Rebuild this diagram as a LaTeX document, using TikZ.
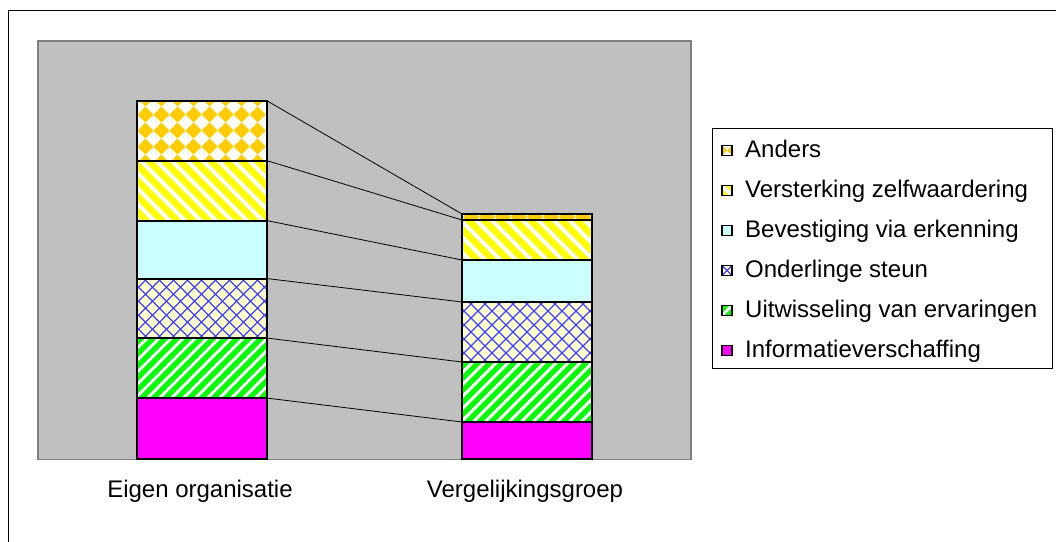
\documentclass[tikz,border=0pt]{standalone}
\usepackage{fontspec}
\setmainfont{Liberation Sans}
\definecolor{plotgray}{HTML}{C0C0C0}
\definecolor{plotedge}{HTML}{808080}
\definecolor{magentaC}{HTML}{FF00FF}
\definecolor{greenC}{HTML}{00FF00}
\definecolor{creamC}{HTML}{FFFFCC}
\definecolor{hatchblue}{HTML}{4040FF}
\definecolor{cyanC}{HTML}{CCFFFF}
\definecolor{yellowC}{HTML}{FFFF00}
\definecolor{orangeC}{HTML}{FFCC00}
\begin{document}
\begin{tikzpicture}[x=1pt,y=-1pt,
  every node/.style={font=\fontsize{24}{28}\selectfont},
  seg/.style={rectangle,draw=black,line width=2pt,minimum width=130pt,
    inner sep=0pt,outer sep=0pt,anchor=north west},
  key/.style={rectangle,draw=black,line width=1.2pt,minimum size=10pt,
    inner sep=0pt,outer sep=0pt},
  keytext/.style={anchor=base west,inner sep=0pt},
  link/.style={draw=black,line width=0.8pt},
  % solid fills and hatch fills of the six categories
  fillInfo/.style={fill=magentaC},
  fillUitw/.style={fill=greenC,path picture={
    \foreach \i in {-240,-228,...,240}{
      \draw[white,line width=3pt] ([xshift=\i pt]path picture bounding box.center)
        ++(-120,120) -- ++(240,-240);}}},
  fillOnder/.style={fill=creamC,path picture={
    \foreach \i in {-238,-224,...,238}{
      \draw[hatchblue,line width=1.1pt] ([xshift=\i pt]path picture bounding box.center)
        ++(-120,120) -- ++(240,-240);
      \draw[hatchblue,line width=1.1pt] ([xshift=\i pt]path picture bounding box.center)
        ++(-120,-120) -- ++(240,240);}}},
  fillBev/.style={fill=cyanC},
  fillVerst/.style={fill=yellowC,path picture={
    \foreach \i in {-248,-232.5,...,248}{
      \draw[white,line width=4pt] ([xshift=\i pt]path picture bounding box.center)
        ++(-120,-120) -- ++(240,240);}}},
  fillAnders/.style={fill=white,path picture={
    \foreach \i in {-88,-72,...,88}{
      \foreach \j in {-48,-32,...,48}{
        \fill[orangeC] ([shift={(\i,\j)}]path picture bounding box.center)
          ++(-8,0) -- ++(8,-8) -- ++(8,8) -- ++(-8,8) -- cycle;}}}},
]
\useasboundingbox (0,0) rectangle (1056,541);
\clip (0,0) rectangle (1056,541);

% chart frame
\draw[black,line width=1pt] (8,10) rectangle (1080,570);

% plot area
\node[rectangle,fill=plotgray,draw=plotedge,line width=1.5pt,inner sep=0pt,
  minimum width=653pt,minimum height=418.5pt,anchor=north west] (plot) at (37,40) {};

% first column
\node[seg,fillAnders,minimum height=60pt]   (a6) at (136.5,100.5) {};
\node[seg,fillVerst,minimum height=60pt]    (a5) at (136.5,160.5) {};
\node[seg,fillBev,minimum height=58pt]      (a4) at (136.5,220.5) {};
\node[seg,fillOnder,minimum height=59.5pt]  (a3) at (136.5,278.5) {};
\node[seg,fillUitw,minimum height=60pt]     (a2) at (136.5,338) {};
\node[seg,fillInfo,minimum height=60.5pt]   (a1) at (136.5,398) {};

% second column
\node[seg,fillAnders,minimum height=6pt]    (b6) at (462,214) {};
\node[seg,fillVerst,minimum height=40pt]    (b5) at (462,220) {};
\node[seg,fillBev,minimum height=42pt]      (b4) at (462,260) {};
\node[seg,fillOnder,minimum height=60pt]    (b3) at (462,302) {};
\node[seg,fillUitw,minimum height=60pt]     (b2) at (462,362) {};
\node[seg,fillInfo,minimum height=36.5pt]   (b1) at (462,422) {};

% series lines between the columns
\foreach \k in {1,...,6}{
  \draw[link] (a\k.north east) -- (b\k.north west);
}

% category labels
\node[anchor=base,inner sep=0pt] (cat1) at (200,497.5) {Eigen organisatie};
\node[anchor=base,inner sep=0pt] (cat2) at (525,497.5) {Vergelijkingsgroep};

% legend
\node[rectangle,draw=black,fill=white,line width=1.2pt,inner sep=0pt,
  minimum width=340pt,minimum height=240pt,anchor=north west] (legend) at (712,128) {};
\node[key,fillAnders] (k6) at (727,150.5) {};
\node[key,fillVerst]  (k5) at (727,190.5) {};
\node[key,fillBev]    (k4) at (727,230.5) {};
\node[key,fillOnder]  (k3) at (727,270.5) {};
\node[key,fillUitw]   (k2) at (727,310.5) {};
\node[key,fillInfo]   (k1) at (727,350.5) {};
\node[keytext] (t6) at (745,157.5) {Anders};
\node[keytext] (t5) at (745,197.5) {Versterking zelfwaardering};
\node[keytext] (t4) at (745,237.5) {Bevestiging via erkenning};
\node[keytext] (t3) at (745,277.5) {Onderlinge steun};
\node[keytext] (t2) at (745,317.5) {Uitwisseling van ervaringen};
\node[keytext] (t1) at (745,357.5) {Informatieverschaffing};
\end{tikzpicture}
\end{document}
